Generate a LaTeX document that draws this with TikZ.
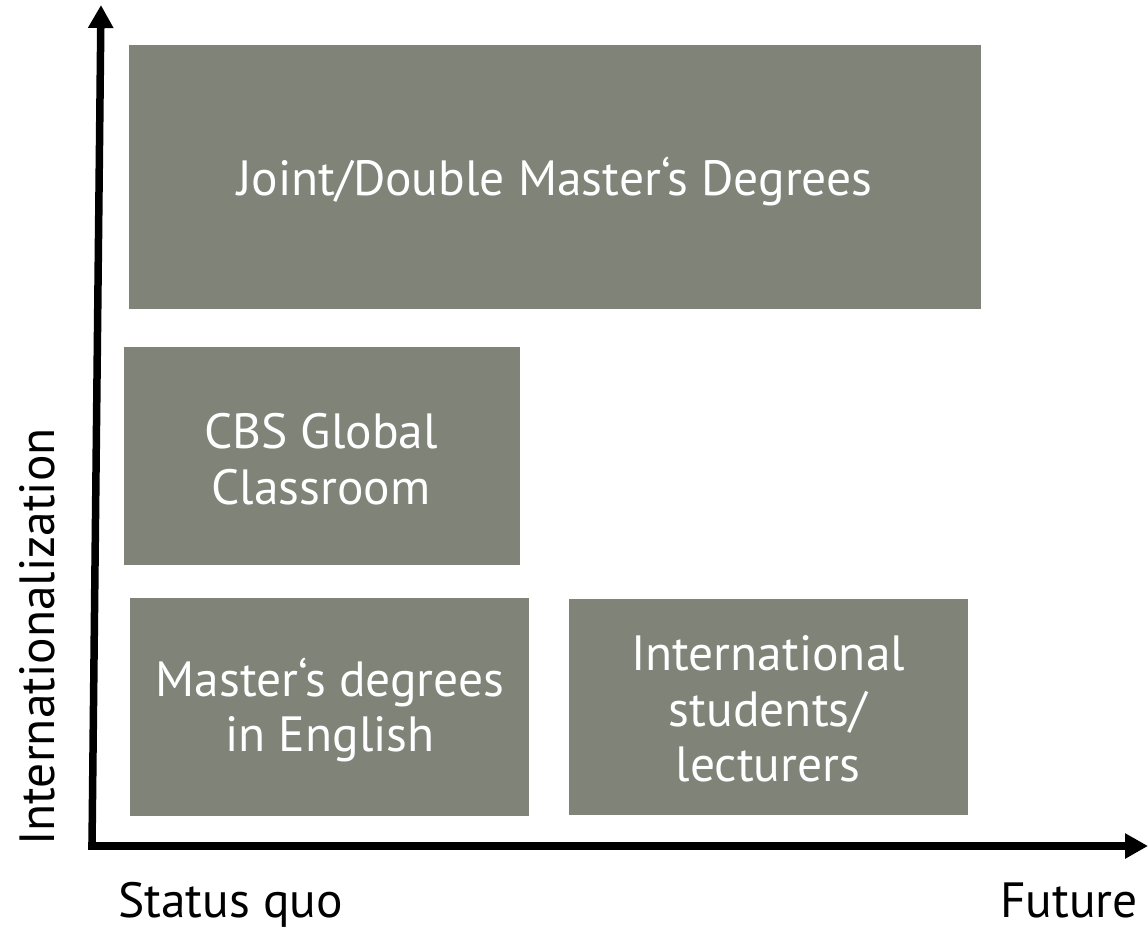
\documentclass[tikz,border=0pt]{standalone}
\usepackage{fontspec}
\setmainfont{PT Sans}
\usetikzlibrary{arrows.meta}
\definecolor{boxgray}{HTML}{7F8378}
\tikzset{
  gbox/.style={fill=boxgray, draw=none, text=white, align=center, font=\fontsize{49.5}{55.5}\selectfont, inner sep=0pt},
  axis/.style={line width=7.5pt, -{Triangle[length=23pt,width=24pt]}},
  lbl/.style={font=\fontsize{49.5}{55.5}\selectfont, inner sep=0pt}
}
\begin{document}
\begin{tikzpicture}[x=1pt,y=-1pt]
\useasboundingbox (0,0) rectangle (1148,930);
\fill[boxgray] (129,45) rectangle (981,309);
\node[gbox] (b1) at (555,181) {Joint/Double Master‘s Degrees};
\fill[boxgray] (124,347) rectangle (520,565);
\node[gbox] (b2) at (321,459) {CBS Global\\Classroom};
\fill[boxgray] (130,598) rectangle (529,816);
\node[gbox] (b3) at (330,710) {Master‘s degrees\\in English};
\fill[boxgray] (569,599) rectangle (968,815);
\node[gbox] (b4) at (768,709) {International\\students/\\lecturers};
\coordinate (o) at (92,846);
\coordinate (ytip) at (101,5);
\coordinate (xtip) at (1148,846);
\draw[axis, line cap=butt] (o) -- (ytip);
\draw[axis] ([xshift=-3.75pt]o) -- (xtip);
\node[lbl, anchor=base west] (sq) at (118,917) {Status quo};
\node[lbl, anchor=base east] (fu) at (1138,917) {Future};
\node[lbl, rotate=90, anchor=base] (in) at (54,637) {Internationalization};
\end{tikzpicture}
\end{document}
